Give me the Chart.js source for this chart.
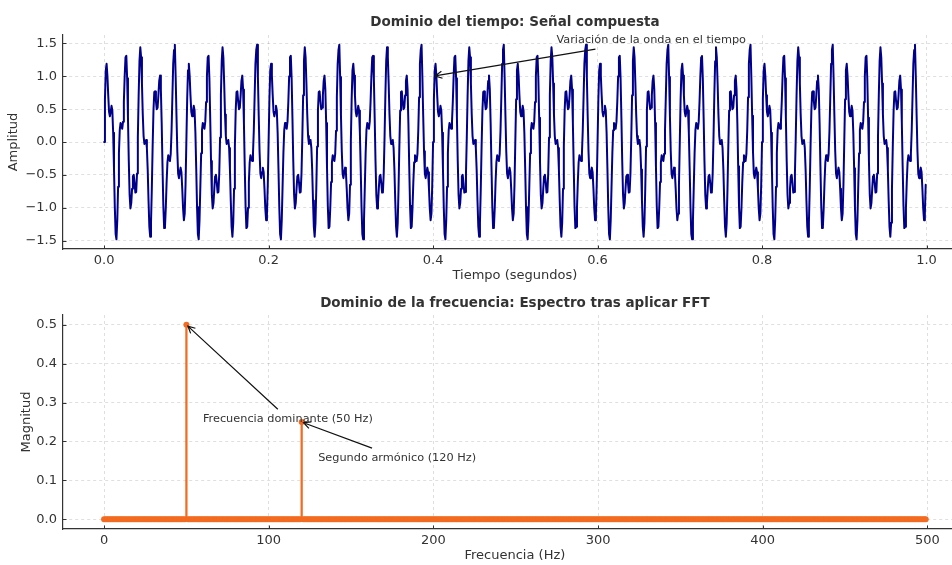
<!DOCTYPE html>
<html>
<head>
<meta charset="utf-8">
<script src="https://cdn.jsdelivr.net/npm/chart.js@4.4.1/dist/chart.umd.min.js"></script>
<style>
  html, body { margin: 0; padding: 0; background: #fff; overflow: hidden; width: 952px; height: 565px; }
  canvas { position: absolute; left: 0; }
  #timeChart { top: 0; }
  #freqChart { top: 285px; }
</style>
</head>
<body>
<canvas id="timeChart" width="980" height="285"></canvas>
<canvas id="freqChart" width="980" height="280"></canvas>
<script>
// composite signal sampled at 1 kHz, one second long
const sampleRate = 1000;
const amplitude = [
  0,0.65,1.09,1.19,1.01,0.71,0.46,0.39,0.46,0.55,0.48,0.14,-0.4,-0.99,-1.4,-1.48,-1.19,-0.68,-0.17,0.18,0.29,0.25,0.2,0.31,0.61,1,1.29,1.31,0.97,0.37,-0.29,-0.8,-1.01,-0.93,-0.71,-0.52,-0.5,-0.62,-0.77,-0.76,-0.48,0.07,0.71,1.23,1.44,1.29,0.89,0.42,0.09,-0.03,
  0,0.03,-0.09,-0.42,-0.89,-1.29,-1.44,-1.23,-0.71,-0.07,0.48,0.76,0.77,0.62,0.5,0.52,0.71,0.93,1.01,0.8,0.29,-0.37,-0.97,-1.31,-1.29,-1,-0.61,-0.31,-0.2,-0.25,-0.29,-0.18,0.17,0.68,1.19,1.4,1.48,0.99,0.4,-0.14,-0.48,-0.55,-0.46,-0.39,-0.46,-0.71,-1.01,-1.19,-1.09,-0.65,
  0,0.65,1.09,1.19,1.01,0.71,0.46,0.39,0.46,0.55,0.48,0.14,-0.4,-0.99,-1.4,-1.48,-1.19,-0.68,-0.17,0.18,0.29,0.25,0.2,0.31,0.61,1,1.29,1.31,0.97,0.37,-0.29,-0.8,-1.01,-0.93,-0.71,-0.52,-0.5,-0.62,-0.77,-0.76,-0.48,0.07,0.71,1.23,1.44,1.29,0.89,0.42,0.09,-0.03,
  0,0.03,-0.09,-0.42,-0.89,-1.29,-1.44,-1.23,-0.71,-0.07,0.48,0.76,0.77,0.62,0.5,0.52,0.71,0.93,1.01,0.8,0.29,-0.37,-0.97,-1.31,-1.29,-1,-0.61,-0.31,-0.2,-0.25,-0.29,-0.18,0.17,0.68,1.19,1.4,1.48,0.99,0.4,-0.14,-0.48,-0.55,-0.46,-0.39,-0.46,-0.71,-1.01,-1.19,-1.09,-0.65,
  0,0.65,1.09,1.19,1.01,0.71,0.46,0.39,0.46,0.55,0.48,0.14,-0.4,-0.99,-1.4,-1.48,-1.19,-0.68,-0.17,0.18,0.29,0.25,0.2,0.31,0.61,1,1.29,1.31,0.97,0.37,-0.29,-0.8,-1.01,-0.93,-0.71,-0.52,-0.5,-0.62,-0.77,-0.76,-0.48,0.07,0.71,1.23,1.44,1.29,0.89,0.42,0.09,-0.03,
  0,0.03,-0.09,-0.42,-0.89,-1.29,-1.44,-1.23,-0.71,-0.07,0.48,0.76,0.77,0.62,0.5,0.52,0.71,0.93,1.01,0.8,0.29,-0.37,-0.97,-1.31,-1.29,-1,-0.61,-0.31,-0.2,-0.25,-0.29,-0.18,0.17,0.68,1.19,1.4,1.48,0.99,0.4,-0.14,-0.48,-0.55,-0.46,-0.39,-0.46,-0.71,-1.01,-1.19,-1.09,-0.65,
  0,0.65,1.09,1.19,1.01,0.71,0.46,0.39,0.46,0.55,0.48,0.14,-0.4,-0.99,-1.4,-1.48,-1.19,-0.68,-0.17,0.18,0.29,0.25,0.2,0.31,0.61,1,1.29,1.31,0.97,0.37,-0.29,-0.8,-1.01,-0.93,-0.71,-0.52,-0.5,-0.62,-0.77,-0.76,-0.48,0.07,0.71,1.23,1.44,1.29,0.89,0.42,0.09,-0.03,
  0,0.03,-0.09,-0.42,-0.89,-1.29,-1.44,-1.23,-0.71,-0.07,0.48,0.76,0.77,0.62,0.5,0.52,0.71,0.93,1.01,0.8,0.29,-0.37,-0.97,-1.31,-1.29,-1,-0.61,-0.31,-0.2,-0.25,-0.29,-0.18,0.17,0.68,1.19,1.4,1.48,0.99,0.4,-0.14,-0.48,-0.55,-0.46,-0.39,-0.46,-0.71,-1.01,-1.19,-1.09,-0.65,
  0,0.65,1.09,1.19,1.01,0.71,0.46,0.39,0.46,0.55,0.48,0.14,-0.4,-0.99,-1.4,-1.48,-1.19,-0.68,-0.17,0.18,0.29,0.25,0.2,0.31,0.61,1,1.29,1.31,0.97,0.37,-0.29,-0.8,-1.01,-0.93,-0.71,-0.52,-0.5,-0.62,-0.77,-0.76,-0.48,0.07,0.71,1.23,1.44,1.29,0.89,0.42,0.09,-0.03,
  0,0.03,-0.09,-0.42,-0.89,-1.29,-1.44,-1.23,-0.71,-0.07,0.48,0.76,0.77,0.62,0.5,0.52,0.71,0.93,1.01,0.8,0.29,-0.37,-0.97,-1.31,-1.29,-1,-0.61,-0.31,-0.2,-0.25,-0.29,-0.18,0.17,0.68,1.19,1.4,1.48,0.99,0.4,-0.14,-0.48,-0.55,-0.46,-0.39,-0.46,-0.71,-1.01,-1.19,-1.09,-0.65,
  0,0.65,1.09,1.19,1.01,0.71,0.46,0.39,0.46,0.55,0.48,0.14,-0.4,-0.99,-1.4,-1.48,-1.19,-0.68,-0.17,0.18,0.29,0.25,0.2,0.31,0.61,1,1.29,1.31,0.97,0.37,-0.29,-0.8,-1.01,-0.93,-0.71,-0.52,-0.5,-0.62,-0.77,-0.76,-0.48,0.07,0.71,1.23,1.44,1.29,0.89,0.42,0.09,-0.03,
  0,0.03,-0.09,-0.42,-0.89,-1.29,-1.44,-1.23,-0.71,-0.07,0.48,0.76,0.77,0.62,0.5,0.52,0.71,0.93,1.01,0.8,0.29,-0.37,-0.97,-1.31,-1.29,-1,-0.61,-0.31,-0.2,-0.25,-0.29,-0.18,0.17,0.68,1.19,1.4,1.48,0.99,0.4,-0.14,-0.48,-0.55,-0.46,-0.39,-0.46,-0.71,-1.01,-1.19,-1.09,-0.65,
  0,0.65,1.09,1.19,1.01,0.71,0.46,0.39,0.46,0.55,0.48,0.14,-0.4,-0.99,-1.4,-1.48,-1.19,-0.68,-0.17,0.18,0.29,0.25,0.2,0.31,0.61,1,1.29,1.31,0.97,0.37,-0.29,-0.8,-1.01,-0.93,-0.71,-0.52,-0.5,-0.62,-0.77,-0.76,-0.48,0.07,0.71,1.23,1.44,1.29,0.89,0.42,0.09,-0.03,
  0,0.03,-0.09,-0.42,-0.89,-1.29,-1.44,-1.23,-0.71,-0.07,0.48,0.76,0.77,0.62,0.5,0.52,0.71,0.93,1.01,0.8,0.29,-0.37,-0.97,-1.31,-1.29,-1,-0.61,-0.31,-0.2,-0.25,-0.29,-0.18,0.17,0.68,1.19,1.4,1.48,0.99,0.4,-0.14,-0.48,-0.55,-0.46,-0.39,-0.46,-0.71,-1.01,-1.19,-1.09,-0.65,
  0,0.65,1.09,1.19,1.01,0.71,0.46,0.39,0.46,0.55,0.48,0.14,-0.4,-0.99,-1.4,-1.48,-1.19,-0.68,-0.17,0.18,0.29,0.25,0.2,0.31,0.61,1,1.29,1.31,0.97,0.37,-0.29,-0.8,-1.01,-0.93,-0.71,-0.52,-0.5,-0.62,-0.77,-0.76,-0.48,0.07,0.71,1.23,1.44,1.29,0.89,0.42,0.09,-0.03,
  0,0.03,-0.09,-0.42,-0.89,-1.29,-1.44,-1.23,-0.71,-0.07,0.48,0.76,0.77,0.62,0.5,0.52,0.71,0.93,1.01,0.8,0.29,-0.37,-0.97,-1.31,-1.29,-1,-0.61,-0.31,-0.2,-0.25,-0.29,-0.18,0.17,0.68,1.19,1.4,1.48,0.99,0.4,-0.14,-0.48,-0.55,-0.46,-0.39,-0.46,-0.71,-1.01,-1.19,-1.09,-0.65,
  0,0.65,1.09,1.19,1.01,0.71,0.46,0.39,0.46,0.55,0.48,0.14,-0.4,-0.99,-1.4,-1.48,-1.19,-0.68,-0.17,0.18,0.29,0.25,0.2,0.31,0.61,1,1.29,1.31,0.97,0.37,-0.29,-0.8,-1.01,-0.93,-0.71,-0.52,-0.5,-0.62,-0.77,-0.76,-0.48,0.07,0.71,1.23,1.44,1.29,0.89,0.42,0.09,-0.03,
  0,0.03,-0.09,-0.42,-0.89,-1.29,-1.44,-1.23,-0.71,-0.07,0.48,0.76,0.77,0.62,0.5,0.52,0.71,0.93,1.01,0.8,0.29,-0.37,-0.97,-1.31,-1.29,-1,-0.61,-0.31,-0.2,-0.25,-0.29,-0.18,0.17,0.68,1.19,1.4,1.48,0.99,0.4,-0.14,-0.48,-0.55,-0.46,-0.39,-0.46,-0.71,-1.01,-1.19,-1.09,-0.65,
  0,0.65,1.09,1.19,1.01,0.71,0.46,0.39,0.46,0.55,0.48,0.14,-0.4,-0.99,-1.4,-1.48,-1.19,-0.68,-0.17,0.18,0.29,0.25,0.2,0.31,0.61,1,1.29,1.31,0.97,0.37,-0.29,-0.8,-1.01,-0.93,-0.71,-0.52,-0.5,-0.62,-0.77,-0.76,-0.48,0.07,0.71,1.23,1.44,1.29,0.89,0.42,0.09,-0.03,
  0,0.03,-0.09,-0.42,-0.89,-1.29,-1.44,-1.23,-0.71,-0.07,0.48,0.76,0.77,0.62,0.5,0.52,0.71,0.93,1.01,0.8,0.29,-0.37,-0.97,-1.31,-1.29,-1,-0.61,-0.31,-0.2,-0.25,-0.29,-0.18,0.17,0.68,1.19,1.4,1.48,0.99,0.4,-0.14,-0.48,-0.55,-0.46,-0.39,-0.46,-0.71,-1.01,-1.19,-1.09,-0.65
];

// FFT magnitude, one bin per Hz (0..499 Hz)
const freqStep = 1;
const magnitude = [
  0,0,0,0,0,0,0,0,0,0, 0,0,0,0,0,0,0,0,0,0, 0,0,0,0,0,0,0,0,0,0, 0,0,0,0,0,0,0,0,0,0, 0,0,0,0,0,0,0,0,0,0,
  0.5,0,0,0,0,0,0,0,0,0, 0,0,0,0,0,0,0,0,0,0, 0,0,0,0,0,0,0,0,0,0, 0,0,0,0,0,0,0,0,0,0, 0,0,0,0,0,0,0,0,0,0,
  0,0,0,0,0,0,0,0,0,0, 0,0,0,0,0,0,0,0,0,0, 0.25,0,0,0,0,0,0,0,0,0, 0,0,0,0,0,0,0,0,0,0, 0,0,0,0,0,0,0,0,0,0,
  0,0,0,0,0,0,0,0,0,0, 0,0,0,0,0,0,0,0,0,0, 0,0,0,0,0,0,0,0,0,0, 0,0,0,0,0,0,0,0,0,0, 0,0,0,0,0,0,0,0,0,0,
  0,0,0,0,0,0,0,0,0,0, 0,0,0,0,0,0,0,0,0,0, 0,0,0,0,0,0,0,0,0,0, 0,0,0,0,0,0,0,0,0,0, 0,0,0,0,0,0,0,0,0,0,
  0,0,0,0,0,0,0,0,0,0, 0,0,0,0,0,0,0,0,0,0, 0,0,0,0,0,0,0,0,0,0, 0,0,0,0,0,0,0,0,0,0, 0,0,0,0,0,0,0,0,0,0,
  0,0,0,0,0,0,0,0,0,0, 0,0,0,0,0,0,0,0,0,0, 0,0,0,0,0,0,0,0,0,0, 0,0,0,0,0,0,0,0,0,0, 0,0,0,0,0,0,0,0,0,0,
  0,0,0,0,0,0,0,0,0,0, 0,0,0,0,0,0,0,0,0,0, 0,0,0,0,0,0,0,0,0,0, 0,0,0,0,0,0,0,0,0,0, 0,0,0,0,0,0,0,0,0,0,
  0,0,0,0,0,0,0,0,0,0, 0,0,0,0,0,0,0,0,0,0, 0,0,0,0,0,0,0,0,0,0, 0,0,0,0,0,0,0,0,0,0, 0,0,0,0,0,0,0,0,0,0,
  0,0,0,0,0,0,0,0,0,0, 0,0,0,0,0,0,0,0,0,0, 0,0,0,0,0,0,0,0,0,0, 0,0,0,0,0,0,0,0,0,0, 0,0,0,0,0,0,0,0,0,0
];

const timeNotes = [
  { text: 'Variación de la onda en el tiempo', textAt: [0.55, 1.5], point: [0.4, 1.0] }
];
const freqNotes = [
  { text: 'Frecuencia dominante (50 Hz)', textAt: [60, 0.25], point: [50 * freqStep, magnitude[50]] },
  { text: 'Segundo armónico (120 Hz)', textAt: [130, 0.15], point: [120 * freqStep, magnitude[120]] }
];

const timePoints = amplitude.map((v, i) => ({ x: i / sampleRate, y: v }));
const spectrum = magnitude.map((v, k) => ({ x: k * freqStep, y: v }));

const textColor = '#333';
const orange = '#f26b21';
const tickFont = { family: 'DejaVu Sans', size: 13 };
const labelFont = { family: 'DejaVu Sans', size: 13 };
const fmt = v => v.toFixed(1).replace('-', '\u2212');

// matplotlib-like inward tick marks
const innerTicks = {
  id: 'innerTicks',
  afterDraw(chart) {
    const { ctx, chartArea: a, scales: { x, y } } = chart;
    ctx.save();
    ctx.strokeStyle = '#333';
    ctx.lineWidth = 1;
    ctx.beginPath();
    x.ticks.forEach(t => {
      const px = Math.round(x.getPixelForValue(t.value)) + 0.5;
      ctx.moveTo(px, a.bottom);
      ctx.lineTo(px, a.bottom - 3.5);
    });
    y.ticks.forEach(t => {
      const py = Math.round(y.getPixelForValue(t.value)) + 0.5;
      ctx.moveTo(a.left, py);
      ctx.lineTo(a.left + 3.5, py);
    });
    ctx.stroke();
    ctx.restore();
  }
};

// panel title + arrow annotations
const panelText = {
  id: 'panelText',
  afterDraw(chart, args, opts) {
    const { ctx, chartArea: a, scales: { x, y } } = chart;
    ctx.save();
    ctx.fillStyle = textColor;
    ctx.font = 'bold 13.5px "DejaVu Sans"';
    ctx.textAlign = 'center';
    ctx.textBaseline = 'middle';
    ctx.fillText(opts.title, (a.left + a.right) / 2, opts.titleY);

    ctx.font = '11.3px "DejaVu Sans"';
    ctx.textAlign = 'left';
    ctx.textBaseline = 'alphabetic';
    opts.notes.forEach(n => {
      const tx = x.getPixelForValue(n.textAt[0]);
      const ty = y.getPixelForValue(n.textAt[1]);
      const px = x.getPixelForValue(n.point[0]);
      const py = y.getPixelForValue(n.point[1]);
      const m = ctx.measureText(n.text);
      const asc = m.fontBoundingBoxAscent || 10.5;
      const desc = m.fontBoundingBoxDescent || 2.7;
      const pad = 2.8;
      const cx = tx + m.width / 2;
      const cy = ty - (asc - desc) / 2;
      const hw = m.width / 2 + pad, hh = (asc + desc) / 2 + pad;
      ctx.fillStyle = textColor;
      ctx.fillText(n.text, tx, ty);

      // arrow starts where the line from the text centre leaves its box
      const dx = px - cx, dy = py - cy;
      const s = Math.min(dx ? hw / Math.abs(dx) : Infinity, dy ? hh / Math.abs(dy) : Infinity);
      const x0 = cx + dx * s, y0 = cy + dy * s;
      const len = Math.hypot(px - x0, py - y0);
      const ux = (px - x0) / len, uy = (py - y0) / len;
      const ex = px - ux * 2, ey = py - uy * 2;
      const hl = 7, hwid = 3.5;
      ctx.strokeStyle = '#111';
      ctx.lineWidth = 1.2;
      ctx.beginPath();
      ctx.moveTo(x0, y0);
      ctx.lineTo(ex, ey);
      ctx.moveTo(ex - ux * hl - uy * hwid, ey - uy * hl + ux * hwid);
      ctx.lineTo(ex, ey);
      ctx.lineTo(ex - ux * hl + uy * hwid, ey - uy * hl - ux * hwid);
      ctx.stroke();
    });
    ctx.restore();
  }
};

const grid = { color: 'rgba(0,0,0,0.16)', lineWidth: 0.8, drawTicks: false };
const border = { display: true, color: '#333', width: 1.2, dash: [3, 3] };

new Chart(document.getElementById('timeChart'), {
  type: 'line',
  data: {
    datasets: [{
      data: timePoints,
      borderColor: '#00008b',
      borderWidth: 2,
      borderJoinStyle: 'round',
      borderCapStyle: 'round',
      pointRadius: 0,
      tension: 0
    }]
  },
  options: {
    responsive: false,
    animation: false,
    devicePixelRatio: 1,
    layout: { padding: { top: 35, right: 13.2, left: 0, bottom: 0 } },
    plugins: {
      legend: { display: false },
      tooltip: { enabled: false },
      panelText: { title: 'Dominio del tiempo: Señal compuesta', titleY: 22, notes: timeNotes }
    },
    scales: {
      x: {
        type: 'linear', min: -0.05, max: 1.049,
        afterFit: s => { s.height = 36; },
        ticks: { stepSize: 0.2, includeBounds: false, autoSkip: false, maxRotation: 0, padding: 4, color: textColor, font: tickFont, callback: v => fmt(v) },
        grid, border,
        title: { display: true, text: 'Tiempo (segundos)', color: textColor, font: labelFont, padding: { top: 0, bottom: 1.2 } }
      },
      y: {
        min: -1.628, max: 1.628,
        afterFit: s => { s.width = 63; },
        ticks: { stepSize: 0.5, includeBounds: false, padding: 6, color: textColor, font: tickFont, callback: v => fmt(v) },
        grid, border,
        title: { display: true, text: 'Amplitud', color: textColor, font: labelFont, padding: { top: 6.2, bottom: 0 } }
      }
    }
  },
  plugins: [innerTicks, panelText]
});

new Chart(document.getElementById('freqChart'), {
  type: 'bar',
  data: {
    datasets: [
      { type: 'scatter', data: spectrum, backgroundColor: orange, borderWidth: 0, pointRadius: 3, order: 0 },
      { type: 'bar', data: spectrum, backgroundColor: orange, borderWidth: 0, barThickness: 1.6, order: 1 }
    ]
  },
  options: {
    responsive: false,
    animation: false,
    devicePixelRatio: 1,
    layout: { padding: { top: 30, right: 13.2, left: 0, bottom: 0 } },
    plugins: {
      legend: { display: false },
      tooltip: { enabled: false },
      panelText: { title: 'Dominio de la frecuencia: Espectro tras aplicar FFT', titleY: 18, notes: freqNotes }
    },
    scales: {
      x: {
        type: 'linear', min: -24.95, max: 523.95, offset: false,
        afterFit: s => { s.height = 36; },
        ticks: { stepSize: 100, includeBounds: false, autoSkip: false, maxRotation: 0, padding: 4, color: textColor, font: tickFont, callback: v => String(v) },
        grid: { ...grid, offset: false }, border,
        title: { display: true, text: 'Frecuencia (Hz)', color: textColor, font: labelFont, padding: { top: 0, bottom: 1.2 } }
      },
      y: {
        min: -0.025, max: 0.525,
        afterFit: s => { s.width = 63; },
        ticks: { stepSize: 0.1, includeBounds: false, padding: 6, color: textColor, font: tickFont, callback: v => fmt(v) },
        grid, border,
        title: { display: true, text: 'Magnitud', color: textColor, font: labelFont, padding: { top: 19.2, bottom: 0 } }
      }
    }
  },
  plugins: [innerTicks, panelText]
});
</script>
</body>
</html>
